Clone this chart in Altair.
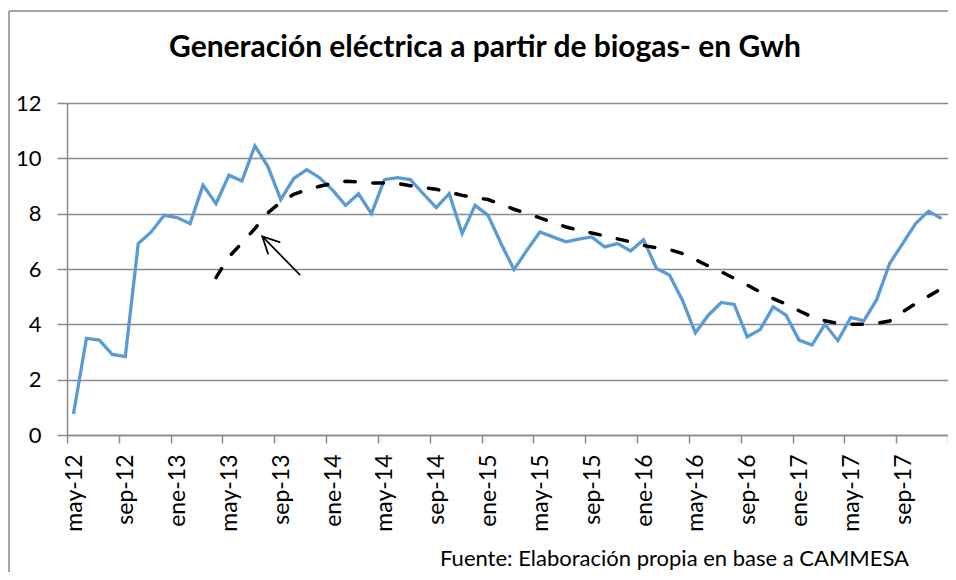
import json
import altair as alt
import pandas as pd

# ---- data ----
meses_abrev = ["ene", "feb", "mar", "abr", "may", "jun", "jul", "ago", "sep", "oct", "nov", "dic"]
meses = []
for anio in range(12, 18):
    for m, nombre in enumerate(meses_abrev):
        if anio == 12 and m < 4:
            continue
        meses.append(f"{nombre}-{anio}")

generacion = [
    0.76, 3.49, 3.43, 2.91, 2.83, 6.92, 7.34, 7.94, 7.86, 7.64,
    9.03, 8.36, 9.39, 9.18, 10.45, 9.71, 8.51, 9.27, 9.59, 9.30,
    8.85, 8.30, 8.72, 8.00, 9.23, 9.30, 9.23, 8.72, 8.22, 8.72,
    7.28, 8.30, 7.94, 6.92, 5.98, 6.68, 7.34, 7.16, 6.98, 7.08,
    7.16, 6.80, 6.92, 6.65, 7.06, 6.02, 5.78, 4.87, 3.69, 4.33,
    4.79, 4.72, 3.55, 3.81, 4.63, 4.33, 3.43, 3.25, 4.00, 3.41,
    4.25, 4.13, 4.90, 6.20, 6.92, 7.64, 8.09, 7.82,
]

tendencia_inicio = 11
tendencia = [
    5.69, 6.44, 6.94, 7.46, 8.03, 8.42, 8.70, 8.86, 8.99, 9.09,
    9.17, 9.15, 9.11, 9.11, 9.09, 9.01, 8.94, 8.88, 8.78, 8.66,
    8.58, 8.51, 8.34, 8.16, 8.00, 7.85, 7.68, 7.52, 7.40, 7.30,
    7.20, 7.09, 6.98, 6.85, 6.77, 6.70, 6.56, 6.34, 6.11, 5.90,
    5.66, 5.42, 5.17, 4.93, 4.73, 4.49, 4.27, 4.13, 4.03, 4.00,
    4.00, 4.04, 4.12, 4.45, 4.75, 5.02, 5.29,
]

# arrow annotation (tail -> head), in data units
flecha_x = [18.0, 15.07]
flecha_y = [5.78, 7.18]

tick_labels = [meses[k] for k in range(0, len(meses), 4)]

titulo = "Generación eléctrica a partir de biogas- en Gwh"
fuente = "Fuente: Elaboración propia en base a CAMMESA"

# ---- tables ----
n = len(meses)
df = pd.DataFrame({"i": [k + 0.5 for k in range(n)], "mes": meses, "gwh": generacion})
df_t = pd.DataFrame({
    "i": [tendencia_inicio + k + 0.5 for k in range(len(tendencia))],
    "tend": tendencia,
})
df_f = pd.DataFrame({"x": flecha_x, "y": flecha_y})
df_head = df_f.iloc[[1]]

FONT = "Lato"
GRID = "#8a8a8a"
W, H = 881, 332

label_expr = f"datum.value < {n} ? {json.dumps(tick_labels)}[round(datum.value/4)] : ''"

x_enc = alt.X(
    "i:Q",
    scale=alt.Scale(domain=[0, n], nice=False, zero=False),
    axis=alt.Axis(
        values=list(range(0, n + 1, 4)),
        labelExpr=label_expr,
        labelAngle=270,
        labelOffset=7,
        labelFontSize=23,
        labelFont=FONT,
        labelColor="#000000",
        labelPadding=11,
        tickSize=8,
        tickColor=GRID,
        tickWidth=1.5,
        domainColor=GRID,
        domainWidth=1.5,
        grid=False,
        title=None,
    ),
)
y_scale = alt.Scale(domain=[0, 12], nice=False)
y_axis = alt.Axis(
    values=list(range(0, 13, 2)),
    labelFontSize=22,
    labelFont=FONT,
    labelColor="#000000",
    labelPadding=16,
    tickSize=10,
    tickColor=GRID,
    tickWidth=1.5,
    domainColor=GRID,
    domainWidth=1.5,
    gridColor=GRID,
    gridWidth=1.5,
    title=None,
)

serie = alt.Chart(df).mark_line(color="#5B9BD5", strokeWidth=3.3).encode(
    x=x_enc,
    y=alt.Y("gwh:Q", scale=y_scale, axis=y_axis),
)

trend = alt.Chart(df_t).mark_line(
    color="#000000", strokeWidth=3.5, strokeDash=[10.5, 17.5], strokeCap="round"
).encode(x="i:Q", y="tend:Q")

flecha = alt.Chart(df_f).mark_line(color="#000000", strokeWidth=1.7).encode(
    x="x:Q", y="y:Q"
)
punta = alt.Chart(df_head).mark_point(
    shape="M -0.5 1 L 0 0 L 0.5 1",
    size=1156,
    angle=315,
    filled=False,
    color="#000000",
    strokeWidth=1.7,
    opacity=1,
).encode(x="x:Q", y="y:Q")

uno = alt.Data(values=[{}])
marco_izq = alt.Chart(uno).mark_rule(color=GRID, strokeWidth=1.5).encode(
    x=alt.value(-58), y=alt.value(-92), y2=alt.value(H + 137)
)
marco_sup = alt.Chart(uno).mark_rule(color=GRID, strokeWidth=1.5).encode(
    x=alt.value(-58), x2=alt.value(W), y=alt.value(-92)
)
cabecera = alt.Chart(uno).mark_text(
    text=titulo, font=FONT, fontSize=30, fontWeight="bold", align="center",
    baseline="alphabetic", color="#000000"
).encode(x=alt.value(418), y=alt.value(-46))
nota = alt.Chart(uno).mark_text(
    text=fuente, font=FONT, fontSize=22, align="left", baseline="alphabetic", color="#000000"
).encode(x=alt.value(373), y=alt.value(463))

chart = alt.layer(marco_izq, marco_sup, serie, trend, flecha, punta, cabecera, nota).properties(
    width=W,
    height=H,
    autosize=alt.AutoSizeParams(type="none"),
    padding={"left": 59, "top": 95, "right": 0, "bottom": 137},
).configure_view(stroke=None).configure(background="#ffffff")

chart.save("out.html", embed_options={"renderer": "svg", "actions": False})
